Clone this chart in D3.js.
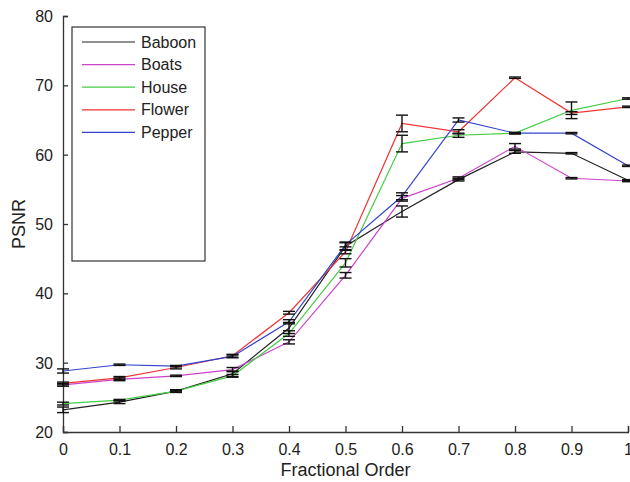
<!DOCTYPE html>
<html>
<head>
<meta charset="utf-8">
<script src="https://cdn.jsdelivr.net/npm/d3@7"></script>
<style>
  body { margin: 0; background: #fff; }
  text { font-family: "Liberation Sans", Arial, sans-serif; fill: #222; }
</style>
</head>
<body>
<div class="canva"></div>
<script>
const orders = [0, 0.1, 0.2, 0.3, 0.4, 0.5, 0.6, 0.7, 0.8, 0.9, 1];

const baboon = [23.2, 24.3, 25.9, 28.4, 35.0, 46.8, 51.8, 56.4, 60.4, 60.2, 56.3];
const baboonErr = [0.4, 0.2, 0.2, 0.4, 0.8, 0.6, 0.8, 0.2, 0.2, 0.1, 0.1];

const boats = [26.8, 27.6, 28.1, 29.0, 33.0, 42.6, 53.7, 56.6, 61.2, 56.6, 56.2];
const boatsErr = [0.2, 0.2, 0.1, 0.3, 0.3, 0.4, 0.4, 0.2, 0.4, 0.1, 0.1];

const house = [24.1, 24.6, 25.9, 28.1, 34.2, 44.4, 61.6, 62.8, 63.1, 66.4, 68.1];
const houseErr = [0.2, 0.1, 0.1, 0.2, 0.4, 0.6, 1.2, 0.3, 0.1, 1.2, 0.1];

const flower = [27.0, 27.8, 29.3, 31.0, 37.2, 46.0, 64.5, 63.3, 71.1, 66.0, 66.9];
const flowerErr = [0.2, 0.2, 0.2, 0.2, 0.2, 0.3, 1.2, 0.3, 0.1, 0.2, 0.1];

const pepper = [28.8, 29.7, 29.5, 30.9, 35.9, 47.0, 54.0, 65.0, 63.1, 63.1, 58.4];
const pepperErr = [0.3, 0.1, 0.1, 0.2, 0.3, 0.3, 0.5, 0.3, 0.1, 0.1, 0.1];

const names = ["Baboon", "Boats", "House", "Flower", "Pepper"];
const colors = ["#222222", "#cc44cc", "#44cc44", "#ee3333", "#3344cc"];

const xTicks = [0, 0.1, 0.2, 0.3, 0.4, 0.5, 0.6, 0.7, 0.8, 0.9, 1];
const yTicks = [20, 30, 40, 50, 60, 70, 80];

const series = [
  { name: names[0], color: colors[0], values: baboon, err: baboonErr },
  { name: names[1], color: colors[1], values: boats, err: boatsErr },
  { name: names[2], color: colors[2], values: house, err: houseErr },
  { name: names[3], color: colors[3], values: flower, err: flowerErr },
  { name: names[4], color: colors[4], values: pepper, err: pepperErr }
];

const svg = d3.select(".canva").append("svg")
    .attr("width", 630)
    .attr("height", 482);

const x = d3.scaleLinear().domain([0, 1]).range([63, 628]);
const y = d3.scaleLinear().domain([20, 80]).range([432, 16]);

// axes, ticks pointing inward like matlab
const xAxis = svg.append("g")
    .attr("transform", "translate(0,432)")
    .call(d3.axisBottom(x).tickValues(xTicks).tickSize(-6).tickPadding(12)
      .tickFormat(d => d === 0 || d === 1 ? d3.format("d")(d) : d3.format(".1f")(d)));

const yAxis = svg.append("g")
    .attr("transform", "translate(63,0)")
    .call(d3.axisLeft(y).tickValues(yTicks).tickSize(-5).tickPadding(10));

[xAxis, yAxis].forEach(g => {
  g.select(".domain").attr("stroke", "#333").attr("stroke-width", 1.3);
  g.selectAll(".tick line").attr("stroke", "#333").attr("stroke-width", 1.3);
  g.selectAll(".tick text")
    .attr("font-size", 16)
    .attr("font-family", "Liberation Sans, Arial, sans-serif")
    .attr("fill", "#222");
});
yAxis.selectAll(".tick text").attr("dy", "0.34em");

// lines
const line = d3.line()
    .x((d, i) => x(orders[i]))
    .y(d => y(d));

series.forEach(s => {
  svg.append("path")
      .datum(s.values)
      .attr("d", line)
      .attr("fill", "none")
      .attr("stroke", s.color)
      .attr("stroke-width", 1.2);
});

// error bars (black)
series.forEach(s => {
  const g = svg.append("g").attr("stroke", "#111").attr("stroke-width", 1.4);
  s.values.forEach((v, i) => {
    const cx = x(orders[i]);
    const lo = y(v - s.err[i]);
    const hi = y(v + s.err[i]);
    g.append("line").attr("x1", cx).attr("x2", cx).attr("y1", lo).attr("y2", hi);
    g.append("line").attr("x1", cx - 6).attr("x2", cx + 6).attr("y1", lo).attr("y2", lo);
    g.append("line").attr("x1", cx - 6).attr("x2", cx + 6).attr("y1", hi).attr("y2", hi);
  });
});

// axis labels
svg.append("text")
    .text("Fractional Order")
    .attr("text-anchor", "middle")
    .attr("font-size", 18)
    .attr("x", 345.5)
    .attr("y", 476);

svg.append("text")
    .text("PSNR")
    .attr("text-anchor", "middle")
    .attr("font-size", 18)
    .attr("transform", "translate(25,224) rotate(-90)");

// legend
const legend = svg.append("g");
legend.append("rect")
    .attr("x", 72)
    .attr("y", 27)
    .attr("width", 133)
    .attr("height", 234)
    .attr("fill", "#fff")
    .attr("stroke", "#333")
    .attr("stroke-width", 1.2);

series.forEach((s, i) => {
  const ly = 42 + i * 22.6;
  legend.append("line")
      .attr("x1", 82).attr("x2", 135)
      .attr("y1", ly).attr("y2", ly)
      .attr("stroke", s.color)
      .attr("stroke-width", 1.2);
  legend.append("text")
      .text(s.name)
      .attr("x", 141)
      .attr("y", ly)
      .attr("dy", "0.35em")
      .attr("font-size", 16);
});
</script>
</body>
</html>
